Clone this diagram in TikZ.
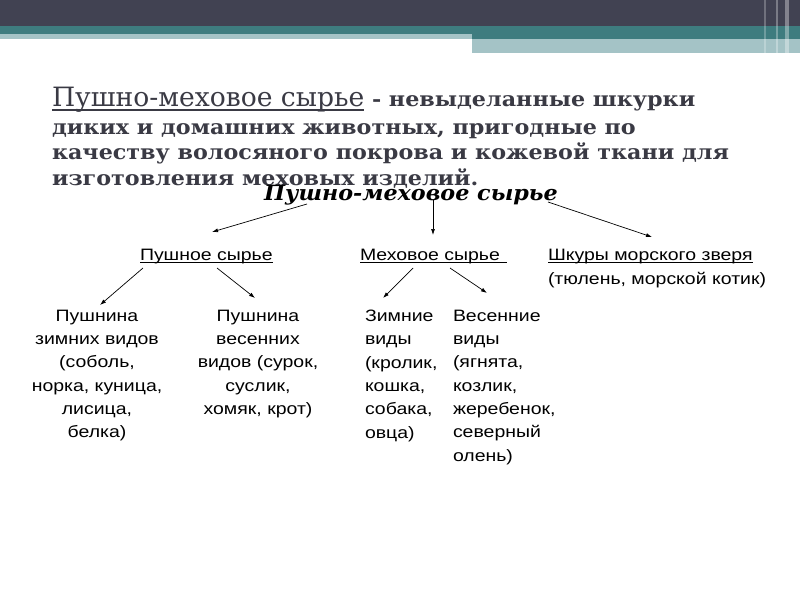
\documentclass[tikz,border=0pt]{standalone}
\usepackage{fontspec}
\setmainfont{DejaVu Serif}
\newfontfamily\serifB[FakeStretch=1.085]{DejaVu Serif}
\newfontfamily\serifR[FakeStretch=1.06]{DejaVu Serif}
\newfontfamily\sansA[FakeStretch=1.18]{Liberation Sans}
\usetikzlibrary{arrows.meta}
\definecolor{hdark}{RGB}{65,66,82}
\definecolor{hteal}{RGB}{62,124,127}
\definecolor{hlight}{RGB}{164,195,198}
\definecolor{ttext}{RGB}{58,58,68}
\begin{document}
\begin{tikzpicture}[x=1pt,y=-1pt,
  every node/.style={inner sep=0pt, outer sep=0pt},
  hlite/.style={anchor=base west, text=ttext, font=\fontsize{26.6}{30}\selectfont},
  hbold/.style={anchor=base west, text=ttext, font=\serifB\fontsize{20.5}{25}\selectfont\bfseries},
  rootlbl/.style={anchor=base, font=\serifR\fontsize{21}{24}\selectfont\bfseries\itshape},
  lbl/.style={anchor=base west, font=\sansA\fontsize{16.5}{23.3}\selectfont},
  leafc/.style={anchor=north, align=center, font=\sansA\fontsize{16.5}{23.3}\selectfont},
  leafl/.style={anchor=north west, align=left, font=\sansA\fontsize{16.5}{23.3}\selectfont},
  arr/.style={-{Latex[length=6pt,width=4pt]}, line width=0.7pt},
  uline/.style={line width=0.9pt}]
\useasboundingbox (0,0) rectangle (800,600);
\fill[white] (0,0) rectangle (800,600);
% header
\fill[hdark] (0,0) rectangle (800,26);
\fill[hteal] (0,26) rectangle (800,34);
\fill[hteal] (472,34) rectangle (800,39);
\fill[hlight] (0,34) rectangle (472,39);
\fill[hlight] (472,39) rectangle (800,53);
\fill[white, opacity=0.25] (764,0) rectangle (766,53);
\fill[white, opacity=0.3] (776,0) rectangle (778,53);
\fill[white, opacity=0.35] (785,0) rectangle (789,53);
% title
\node[hlite] (t1a) at (52,106) {Пушно-меховое сырье};
\draw[ttext, line width=1.1pt] ([yshift=-4pt]t1a.base west) -- ([yshift=-4pt]t1a.base east);
\node[hbold] (t1b) at (372,106) {- невыделанные шкурки};
\node[hbold] (t2) at (52,134) {диких и домашних животных, пригодные по};
\node[hbold] (t3) at (52,159) {качеству волосяного покрова и кожевой ткани для};
\node[hbold] (t4) at (52,185) {изготовления меховых изделий.};
% diagram
\node[rootlbl] (root) at (411,200) {Пушно-меховое сырье};
\node[lbl] (pus) at (140,260) {Пушное сырье};
\draw[uline] ([yshift=-2.5pt]pus.base west) -- ([yshift=-2.5pt]pus.base east);
\node[lbl] (meh) at (360,260) {Меховое сырье};
\draw[uline] ([yshift=-2.5pt]meh.base west) -- ([xshift=7pt,yshift=-2.5pt]meh.base east);
\node[lbl] (shk) at (548,260) {Шкуры морского зверя};
\draw[uline] ([yshift=-2.5pt]shk.base west) -- ([yshift=-2.5pt]shk.base east);
\node[lbl] (tul) at (548,284) {(тюлень, морской котик)};
\node[leafc] (l1) at (97,310) {Пушнина\\зимних видов\\(соболь,\\норка, куница,\\лисица,\\белка)};
\node[leafc] (l2) at (258,310) {Пушнина\\весенних\\видов (сурок,\\суслик,\\хомяк, крот)};
\node[leafl] (l3) at (365,310) {Зимние\\виды\\(кролик,\\кошка,\\собака,\\овца)};
\node[leafl] (l4) at (453,310) {Весенние\\виды\\(ягнята,\\козлик,\\жеребенок,\\северный\\олень)};
% connectors
\coordinate (r1) at (307,204); \coordinate (p1) at (212,232);
\coordinate (r2) at (433,200); \coordinate (p2) at (433,235);
\coordinate (r3) at (548,202); \coordinate (p3) at (652,237);
\coordinate (q1) at (143,268); \coordinate (e1) at (100,305);
\coordinate (q2) at (217,268); \coordinate (e2) at (255,298);
\coordinate (q3) at (413,268); \coordinate (e3) at (383,298);
\coordinate (q4) at (450,268); \coordinate (e4) at (487,293);
\draw[arr] (r1) -- (p1);
\draw[arr] (r2) -- (p2);
\draw[arr] (r3) -- (p3);
\draw[arr] (q1) -- (e1);
\draw[arr] (q2) -- (e2);
\draw[arr] (q3) -- (e3);
\draw[arr] (q4) -- (e4);
\end{tikzpicture}
\end{document}
